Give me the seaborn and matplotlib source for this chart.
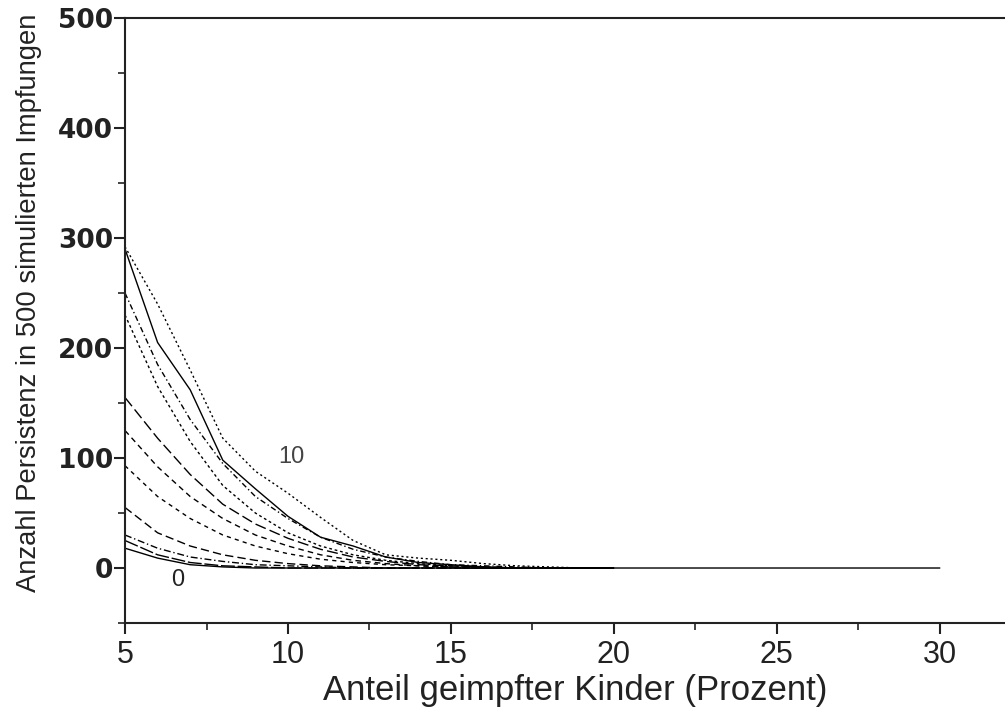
import matplotlib
matplotlib.use("Agg")
import matplotlib.pyplot as plt
import seaborn as sns
import pandas as pd
import numpy as np

# ---- data ----
x_short = [5, 6, 7, 8, 9, 10, 11, 12, 13, 14, 15, 16, 17, 18, 19, 20]
c10 = [292, 240, 180, 118, 88, 68, 46, 25, 12, 9, 7, 4, 2, 1, 0, 0]
c9 = [290, 205, 162, 98, 72, 47, 28, 20, 10, 5, 3, 1, 0, 0, 0, 0]
c8 = [250, 185, 135, 95, 65, 45, 28, 17, 10, 6, 3, 2, 1, 0, 0, 0]
c7 = [230, 165, 115, 75, 50, 32, 20, 12, 7, 4, 2, 1, 0, 0, 0, 0]
c6 = [155, 118, 85, 58, 40, 27, 17, 10, 6, 3, 2, 1, 0, 0, 0, 0]
c5 = [125, 92, 65, 45, 30, 20, 12, 7, 4, 2, 1, 0, 0, 0, 0, 0]
c4 = [93, 65, 45, 30, 20, 13, 8, 5, 3, 2, 1, 0, 0, 0, 0, 0]
c3 = [55, 32, 20, 12, 7, 4, 2, 1, 0, 0, 0, 0, 0, 0, 0, 0]
c2 = [30, 18, 10, 6, 3, 2, 1, 0, 0, 0, 0, 0, 0, 0, 0, 0]
c1 = [25, 12, 5, 2, 1, 0, 0, 0, 0, 0, 0, 0, 0, 0, 0, 0]
x_long = list(range(5, 31))
c0 = [18, 9, 3, 1] + [0] * 22

curve_names = ["0", "1", "2", "3", "4", "5", "6", "7", "8", "9", "10"]
curve_x = [x_long, x_short, x_short, x_short, x_short, x_short,
           x_short, x_short, x_short, x_short, x_short]
curve_y = [c0, c1, c2, c3, c4, c5, c6, c7, c8, c9, c10]

x_ticks = [5, 10, 15, 20, 25, 30]
y_ticks = [0, 100, 200, 300, 400, 500]
x_label = "Anteil geimpfter Kinder (Prozent)"
y_label = "Anzahl Persistenz in 500 simulierten Impfungen"

rows = []
for name, xs, ys in zip(curve_names, curve_x, curve_y):
    for xv, yv in zip(xs, ys):
        rows.append({"x": xv, "y": yv, "curve": name})
df = pd.DataFrame(rows)

sns.set_theme(style="ticks")
plt.rcParams["font.family"] = ["Liberation Sans", "DejaVu Sans"]

fig = plt.figure(figsize=(10.05, 7.07), dpi=100)
ax = fig.add_axes([0.1244, 0.1188, 0.8756, 0.8557])

dash_map = {
    "0": "",
    "1": (10, 2),
    "2": (5, 2, 1, 2),
    "3": (6, 3),
    "4": (3, 3),
    "5": (4, 3),
    "6": (8, 3),
    "7": (2, 2),
    "8": (4, 2, 1, 2),
    "9": "",
    "10": (1.5, 2.0),
}
palette = {n: "black" for n in curve_names}

sns.lineplot(data=df, x="x", y="y", hue="curve", style="curve",
             hue_order=curve_names, style_order=curve_names,
             palette=palette, dashes=dash_map, linewidth=1.0,
             legend=False, ax=ax, sort=True)

ax.set_xlim(5, 32.0)
ax.set_ylim(-50, 500)
ax.set_xticks(x_ticks)
ax.set_yticks(y_ticks)
ax.set_xticks([7.5, 12.5, 17.5, 22.5, 27.5], minor=True)
ax.set_yticks([-50, 50, 150, 250, 350, 450], minor=True)

for s in ["left", "bottom", "top"]:
    ax.spines[s].set_color("#222222")
    ax.spines[s].set_linewidth(1.5)
ax.spines["right"].set_visible(False)

ax.tick_params(axis="both", which="major", direction="out", length=8,
               width=1.5, color="#222222")
ax.tick_params(axis="both", which="minor", direction="out", length=5,
               width=1.2, color="#222222")
ax.tick_params(axis="x", labelsize=22, pad=4)
ax.tick_params(axis="y", labelsize=19, pad=0.5)
for lab in ax.get_yticklabels():
    lab.set_family(["DejaVu Sans"])
    lab.set_fontweight("bold")
    lab.set_color("#222222")
for lab in ax.get_xticklabels():
    lab.set_color("#222222")

ax.set_xlabel(x_label, fontsize=25, color="#222222")
ax.set_ylabel(y_label, fontsize=19.7, color="#222222")
ax.xaxis.set_label_coords(0.5114, -0.085)
ax.yaxis.set_label_coords(-0.094, 0.53)

ax.text(10.1, 101, "10", fontsize=17, color="#444444", ha="center", va="center")
ax.text(6.63, -11, "0", fontsize=17, color="#222222", ha="center", va="center")

fig.savefig("out.png", dpi=100)
